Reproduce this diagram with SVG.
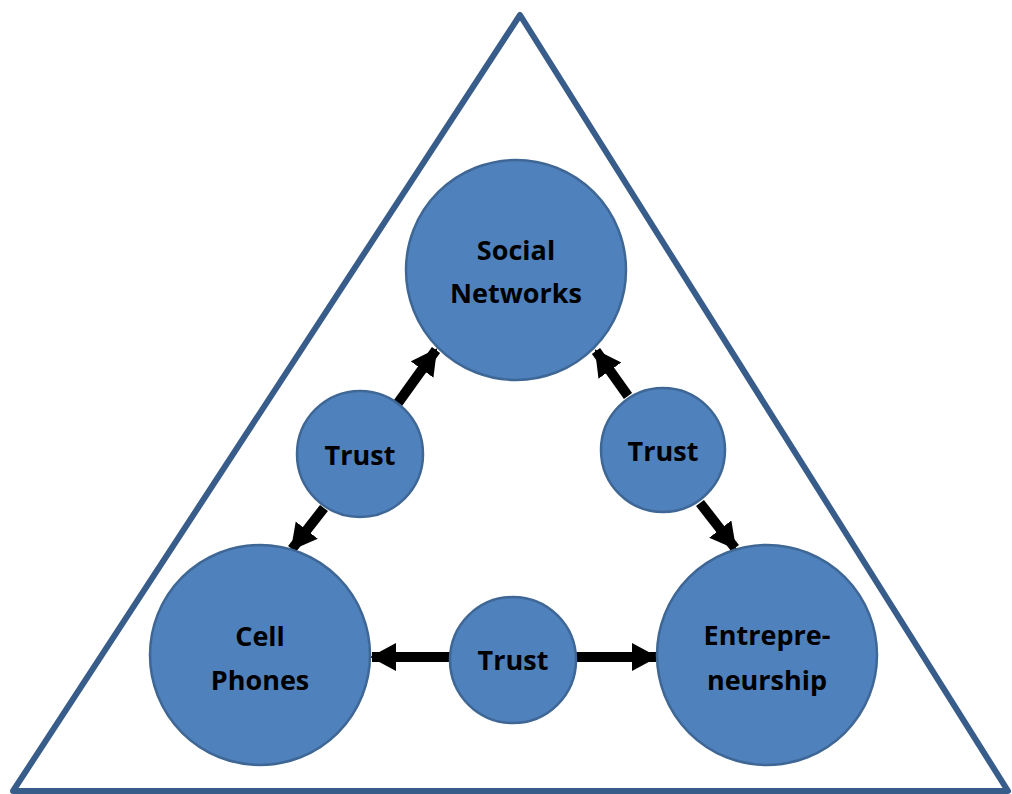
<svg xmlns="http://www.w3.org/2000/svg" width="1012" height="794" viewBox="0 0 1012 794">
<style>
.big{fill:#4F81BD;stroke:#3F6795;stroke-width:2.5}
.lbl{font-family:"Open Sans","Liberation Sans",sans-serif;font-weight:700;font-size:27px;fill:#000;text-anchor:middle}
.conn{stroke:#000;stroke-width:10;fill:none;marker-end:url(#ah)}
</style>
<defs>
<marker id="ah" markerUnits="userSpaceOnUse" markerWidth="28" markerHeight="30" refX="24" refY="14" orient="auto">
<path d="M0,0 L26,14 L0,28 Z" fill="#000"/>
</marker>
</defs>
<rect width="1012" height="794" fill="#fff"/>
<polygon points="520,15 1008,791 13,791" fill="none" stroke="#385D8A" stroke-width="6" stroke-linejoin="round"/>
<g id="connectors">
<line class="conn" x1="398" y1="403" x2="436" y2="350"/>
<line class="conn" x1="324" y1="508" x2="292" y2="549"/>
<line class="conn" x1="628" y1="396" x2="596" y2="351"/>
<line class="conn" x1="700" y1="503" x2="735" y2="548"/>
<line class="conn" x1="451" y1="657" x2="372" y2="657"/>
<line class="conn" x1="576" y1="657" x2="656" y2="657"/>
</g>
<g id="social-networks">
<circle class="big" cx="516" cy="270" r="110"/>
<text class="lbl" x="516" y="260">Social</text>
<text class="lbl" x="516" y="303">Networks</text>
</g>
<g id="cell-phones">
<circle class="big" cx="260" cy="655" r="110"/>
<text class="lbl" x="260" y="646">Cell</text>
<text class="lbl" x="260" y="690">Phones</text>
</g>
<g id="entrepreneurship">
<circle class="big" cx="767" cy="655" r="110"/>
<text class="lbl" x="767" y="645">Entrepre-</text>
<text class="lbl" x="767" y="690">neurship</text>
</g>
<g id="trust-left">
<circle class="big" cx="360" cy="454" r="63"/>
<text class="lbl" x="360" y="465">Trust</text>
</g>
<g id="trust-right">
<circle class="big" cx="663" cy="450" r="62"/>
<text class="lbl" x="663" y="461">Trust</text>
</g>
<g id="trust-bottom">
<circle class="big" cx="513" cy="660" r="63"/>
<text class="lbl" x="513" y="670">Trust</text>
</g>
</svg>
